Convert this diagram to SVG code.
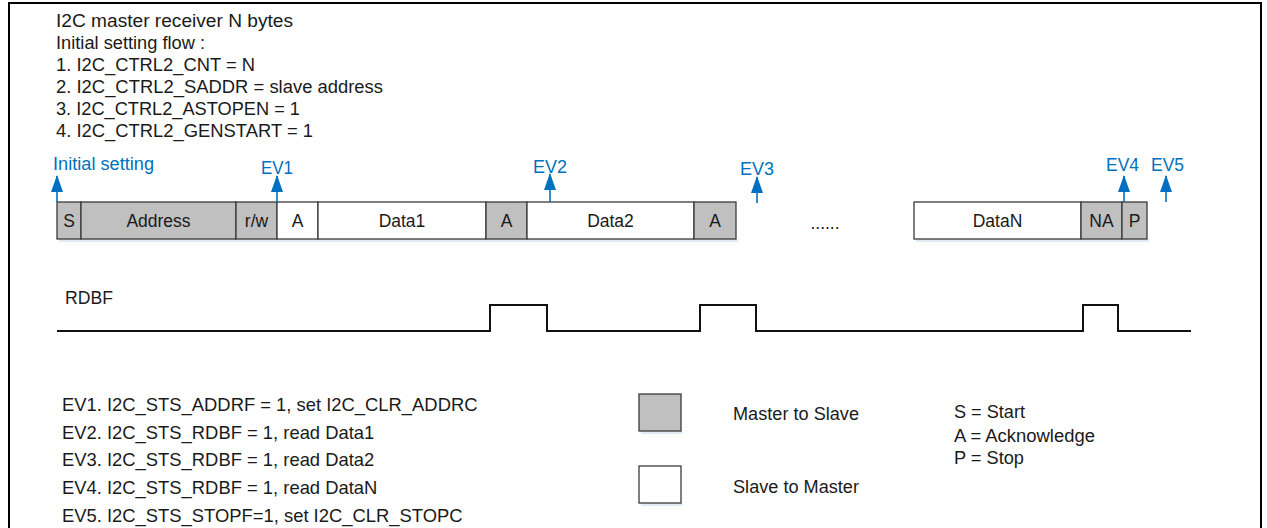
<svg xmlns="http://www.w3.org/2000/svg" width="1267" height="528" viewBox="0 0 1267 528">
<style>
text{font-family:"Liberation Sans",Arial,sans-serif;fill:#1a1a1a}
.t{font-size:17.5px}
.l{font-size:18.4px}
.c{text-anchor:middle;font-size:17.5px}
.b{fill:#0070c0;font-size:17.5px}
.g{fill:#c0c0c0;stroke:#3a3a3a;stroke-width:1.3}
.w{fill:#fff;stroke:#3a3a3a;stroke-width:1.3}
.sh{fill:#e3eaf3}
.ar{stroke:#0070c0;stroke-width:1.6;fill:none}
.sig{fill:none;stroke:#111;stroke-width:2}
</style>
<defs>
<marker id="ah" viewBox="0 0 17 12" refX="16" refY="6" markerWidth="17" markerHeight="12" markerUnits="userSpaceOnUse" orient="auto">
<path d="M0,0 L17,6 L0,12 Z" fill="#0070c0"/>
</marker>
</defs>
<rect width="1267" height="528" fill="#fff"/>
<rect x="9" y="3" width="1252" height="540" fill="none" stroke="#000" stroke-width="2"/>

<g id="title">
<text class="t" x="56" y="27" textLength="237" lengthAdjust="spacingAndGlyphs">I2C  master receiver N  bytes</text>
<text class="t" x="56" y="49" textLength="149" lengthAdjust="spacingAndGlyphs">Initial setting flow :</text>
<text class="t" x="56" y="71" textLength="199" lengthAdjust="spacingAndGlyphs">1. I2C_CTRL2_CNT = N</text>
<text class="t" x="56" y="93" textLength="327" lengthAdjust="spacingAndGlyphs">2. I2C_CTRL2_SADDR = slave address</text>
<text class="t" x="56" y="115" textLength="244" lengthAdjust="spacingAndGlyphs">3. I2C_CTRL2_ASTOPEN = 1</text>
<text class="t" x="56" y="137" textLength="257" lengthAdjust="spacingAndGlyphs">4. I2C_CTRL2_GENSTART = 1</text>
</g>

<g id="frame-shadow">
<rect class="sh" x="59" y="239" width="679" height="3"/>
<rect class="sh" x="916" y="239" width="233" height="3"/>
</g>
<g id="box-S"><rect class="g" x="57" y="202" width="24" height="37"/><text class="c" x="69" y="227">S</text></g>
<g id="box-Address"><rect class="g" x="81" y="202" width="155" height="37"/><text class="c" x="158.5" y="227">Address</text></g>
<g id="box-rw"><rect class="g" x="236" y="202" width="41" height="37"/><text class="c" x="256.5" y="227">r/w</text></g>
<g id="box-A1"><rect class="w" x="277" y="202" width="41" height="37"/><text class="c" x="297.5" y="227">A</text></g>
<g id="box-Data1"><rect class="w" x="318" y="202" width="168" height="37"/><text class="c" x="402" y="227">Data1</text></g>
<g id="box-A2"><rect class="g" x="486" y="202" width="41" height="37"/><text class="c" x="506.5" y="227">A</text></g>
<g id="box-Data2"><rect class="w" x="527" y="202" width="167" height="37"/><text class="c" x="610.5" y="227">Data2</text></g>
<g id="box-A3"><rect class="g" x="694" y="202" width="42" height="37"/><text class="c" x="715" y="227">A</text></g>
<g id="dots"><text class="c" x="825" y="229">......</text></g>
<g id="box-DataN"><rect class="w" x="914" y="202" width="167" height="37"/><text class="c" x="997.5" y="227">DataN</text></g>
<g id="box-NA"><rect class="g" x="1081" y="202" width="41" height="37"/><text class="c" x="1101.5" y="227">NA</text></g>
<g id="box-P"><rect class="g" x="1122" y="202" width="25" height="37"/><text class="c" x="1134.5" y="227">P</text></g>

<g id="event-labels">
<text class="b" x="53" y="170" textLength="101" lengthAdjust="spacingAndGlyphs">Initial setting</text>
<text class="b" x="261" y="174" textLength="32" lengthAdjust="spacingAndGlyphs">EV1</text>
<text class="b" x="533" y="173" textLength="34" lengthAdjust="spacingAndGlyphs">EV2</text>
<text class="b" x="740" y="175" textLength="34" lengthAdjust="spacingAndGlyphs">EV3</text>
<text class="b" x="1106" y="171" textLength="33" lengthAdjust="spacingAndGlyphs">EV4</text>
<text class="b" x="1151" y="171" textLength="33" lengthAdjust="spacingAndGlyphs">EV5</text>
</g>

<g id="connectors">
<line class="ar" x1="57" y1="202" x2="57" y2="176" marker-end="url(#ah)"/>
<line class="ar" x1="277" y1="202" x2="277" y2="176" marker-end="url(#ah)"/>
<line class="ar" x1="550" y1="202" x2="550" y2="174" marker-end="url(#ah)"/>
<line class="ar" x1="757" y1="203" x2="757" y2="177" marker-end="url(#ah)"/>
<line class="ar" x1="1124" y1="202" x2="1124" y2="176" marker-end="url(#ah)"/>
<line class="ar" x1="1166" y1="202" x2="1166" y2="176" marker-end="url(#ah)"/>
</g>

<g id="rdbf">
<text class="t" x="65" y="304" textLength="48" lengthAdjust="spacingAndGlyphs">RDBF</text>
<path class="sig" d="M57,331 H490 V305 H547 V331 H700 V305 H756 V331 H1083 V305 H1118 V331 H1191"/>
</g>

<g id="event-list">
<text class="l" x="62" y="411">EV1. I2C_STS_ADDRF = 1, set I2C_CLR_ADDRC</text>
<text class="l" x="62" y="439">EV2. I2C_STS_RDBF = 1, read Data1</text>
<text class="l" x="62" y="466">EV3. I2C_STS_RDBF = 1, read Data2</text>
<text class="l" x="62" y="494">EV4. I2C_STS_RDBF = 1, read DataN</text>
<text class="l" x="62" y="522">EV5. I2C_STS_STOPF=1, set I2C_CLR_STOPC</text>
</g>

<g id="legend-m2s">
<rect class="sh" x="641" y="431" width="42" height="3"/>
<rect class="g" x="639" y="394" width="42" height="37"/>
<text class="t" x="733" y="420" textLength="126" lengthAdjust="spacingAndGlyphs">Master to Slave</text>
</g>
<g id="legend-s2m">
<rect class="sh" x="641" y="503" width="42" height="3"/>
<rect class="w" x="639" y="466" width="42" height="37"/>
<text class="t" x="733" y="493" textLength="126" lengthAdjust="spacingAndGlyphs">Slave to Master</text>
</g>
<g id="legend-abbr">
<text class="t" x="954" y="418" textLength="71" lengthAdjust="spacingAndGlyphs">S = Start</text>
<text class="t" x="954" y="442" textLength="141" lengthAdjust="spacingAndGlyphs">A = Acknowledge</text>
<text class="t" x="954" y="464" textLength="70" lengthAdjust="spacingAndGlyphs">P = Stop</text>
</g>
</svg>
